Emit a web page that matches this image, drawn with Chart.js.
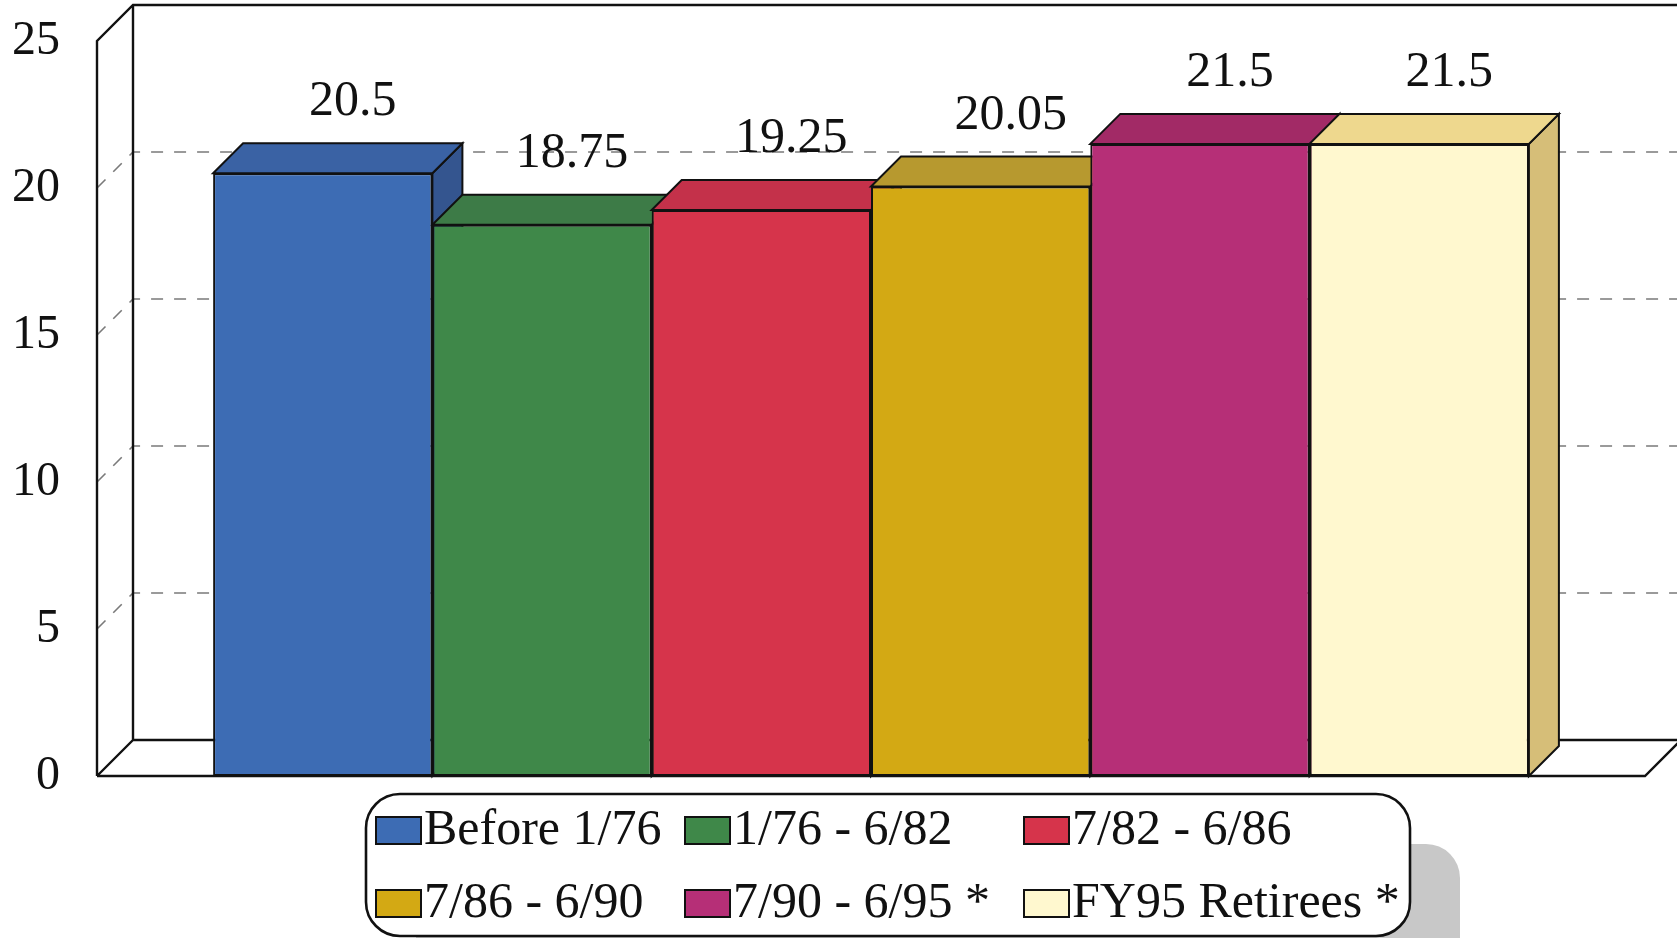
<!DOCTYPE html>
<html>
<head>
<meta charset="utf-8">
<script src="https://cdn.jsdelivr.net/npm/chart.js@4/dist/chart.umd.min.js"></script>
<style>
  html, body { margin: 0; padding: 0; background: #ffffff; }
  canvas { display: block; }
</style>
</head>
<body>
<canvas id="chart" width="1677" height="938"></canvas>
<script>
// ---- data ----
const categories = [''];
const seriesLabels = ['Before 1/76', '1/76 - 6/82', '7/82 - 6/86', '7/86 - 6/90', '7/90 - 6/95 *', 'FY95 Retirees *'];
const seriesValues = [20.5, 18.75, 19.25, 20.05, 21.5, 21.5];
const valueLabels = ['20.5', '18.75', '19.25', '20.05', '21.5', '21.5'];
const yTicks = [0, 5, 10, 15, 20, 25];

// ---- styling ----
const frontColors = ['#3d6cb4', '#3f8849', '#d6344b', '#d3a914', '#b62f77', '#fff8cf'];
const topColors   = ['#3a62a4', '#3d7b47', '#c4314a', '#b7992f', '#a22a66', '#eed88e'];
const sideColors  = ['#34558f', '#356b3e', '#a82a3f', '#9c8228', '#8c2458', '#d6be78'];
const SERIF = '"Liberation Serif", "Times New Roman", Times, serif';
const BAR_DEPTH = 30;
const WALL_DEPTH = 36;

function poly(ctx, pts, fill) {
  ctx.beginPath();
  ctx.moveTo(pts[0][0], pts[0][1]);
  for (let k = 1; k < pts.length; k++) ctx.lineTo(pts[k][0], pts[k][1]);
  ctx.closePath();
  if (fill) { ctx.fillStyle = fill; ctx.fill(); }
  ctx.stroke();
}

// Box frame (side wall, back wall, floor), dashed grid lines and 3D bar faces
const frame3d = {
  id: 'frame3d',
  beforeDatasetsDraw(chart) {
    const { ctx, chartArea: a, scales: { y } } = chart;
    const W = WALL_DEPTH;
    ctx.save();
    // dashed grid lines on back wall and left side wall
    ctx.strokeStyle = '#7a7a7a';
    ctx.lineWidth = 1.6;
    ctx.setLineDash([12, 11]);
    yTicks.forEach(v => {
      if (v === 0 || v === 25) return;
      const py = y.getPixelForValue(v);
      ctx.beginPath();
      ctx.moveTo(a.left, py);
      ctx.lineTo(a.left + W, py - W);
      ctx.lineTo(chart.width + 10, py - W);
      ctx.stroke();
    });
    ctx.setLineDash([]);
    // solid frame
    ctx.strokeStyle = '#111';
    ctx.lineWidth = 2.4;
    ctx.lineJoin = 'miter';
    ctx.beginPath();
    ctx.moveTo(a.left, a.bottom);
    ctx.lineTo(a.left, a.top);
    ctx.lineTo(a.left + W, a.top - W);
    ctx.lineTo(chart.width + 10, a.top - W);
    ctx.moveTo(a.left + W, a.top - W);
    ctx.lineTo(a.left + W, a.bottom - W);
    ctx.lineTo(a.right + W, a.bottom - W);
    ctx.moveTo(a.left, a.bottom);
    ctx.lineTo(a.left + W, a.bottom - W);
    ctx.moveTo(a.left, a.bottom);
    ctx.lineTo(a.right, a.bottom);
    ctx.lineTo(a.right + W, a.bottom - W);
    ctx.stroke();

    // side and top faces, painted left to right; front faces follow on top
    ctx.lineWidth = 2;
    const D = BAR_DEPTH;
    chart.data.datasets.forEach((ds, i) => {
      const bar = chart.getDatasetMeta(i).data[0];
      if (!bar) return;
      const p = bar.getProps(['x', 'y', 'base', 'width'], true);
      const L = p.x - p.width / 2, R = p.x + p.width / 2, T = p.y, B = p.base;
      poly(ctx, [[R, T], [R + D, T - D], [R + D, B - D], [R, B]], sideColors[i]);
      poly(ctx, [[L, T], [L + D, T - D], [R + D, T - D], [R, T]], topColors[i]);
    });
    ctx.restore();
  },
  afterDatasetsDraw(chart) {
    const { ctx } = chart;
    ctx.save();
    ctx.font = '50px ' + SERIF;
    ctx.fillStyle = '#111';
    ctx.textAlign = 'center';
    ctx.textBaseline = 'alphabetic';
    chart.data.datasets.forEach((ds, i) => {
      const bar = chart.getDatasetMeta(i).data[0];
      const p = bar.getProps(['x', 'y'], true);
      ctx.fillText(valueLabels[i], p.x + BAR_DEPTH, p.y - BAR_DEPTH - 28);
    });
    ctx.restore();
  },
  // rounded legend box with its shadow
  afterDraw(chart) {
    const { ctx } = chart;
    const box = { x: 366, y: 794, w: 1044, h: 142, r: 34 };
    ctx.save();
    ctx.fillStyle = '#c8c8c8';
    ctx.beginPath();
    ctx.roundRect(box.x + 50, box.y + 50, box.w, box.h, box.r);
    ctx.fill();
    ctx.fillStyle = '#ffffff';
    ctx.strokeStyle = '#111';
    ctx.lineWidth = 2.6;
    ctx.beginPath();
    ctx.roundRect(box.x, box.y, box.w, box.h, box.r);
    ctx.fill();
    ctx.stroke();

    const cols = [376, 685, 1024];
    const rows = [844, 917];
    ctx.font = '50px ' + SERIF;
    ctx.textAlign = 'left';
    ctx.textBaseline = 'alphabetic';
    ctx.lineWidth = 2;
    chart.data.datasets.forEach((ds, i) => {
      const cx = cols[i % 3], by = rows[Math.floor(i / 3)];
      ctx.fillStyle = frontColors[i];
      ctx.fillRect(cx, by - 27, 45, 27);
      ctx.strokeStyle = '#111';
      ctx.strokeRect(cx, by - 27, 45, 27);
      ctx.fillStyle = '#111';
      ctx.fillText(ds.label, cx + 48, by);
    });
    ctx.restore();
  }
};

const datasets = seriesLabels.map((label, i) => ({
  label,
  data: [seriesValues[i]],
  backgroundColor: frontColors[i],
  borderColor: '#111',
  borderWidth: 2,
  borderSkipped: false
}));

new Chart(document.getElementById('chart'), {
  type: 'bar',
  data: { labels: categories, datasets },
  options: {
    responsive: false,
    animation: false,
    devicePixelRatio: 1,
    layout: { padding: { top: 41, right: 32, bottom: 162, left: 0 } },
    datasets: { bar: { categoryPercentage: 0.85, barPercentage: 1.0 } },
    plugins: { legend: { display: false }, tooltip: { enabled: false } },
    scales: {
      x: { display: false },
      y: {
        min: 0,
        max: 25,
        afterFit(scale) {
          // fixed axis width; tick labels may overhang the plot edges
          scale.width = 97;
          scale.paddingTop = 0;
          scale.paddingBottom = 0;
        },
        afterBuildTicks(scale) { scale.ticks = yTicks.map(v => ({ value: v })); },
        grid: { display: false, drawTicks: false },
        border: { display: false },
        ticks: {
          padding: 37,
          color: '#111',
          font: { family: SERIF, size: 48 }
        }
      }
    }
  },
  plugins: [frame3d]
});
</script>
</body>
</html>
